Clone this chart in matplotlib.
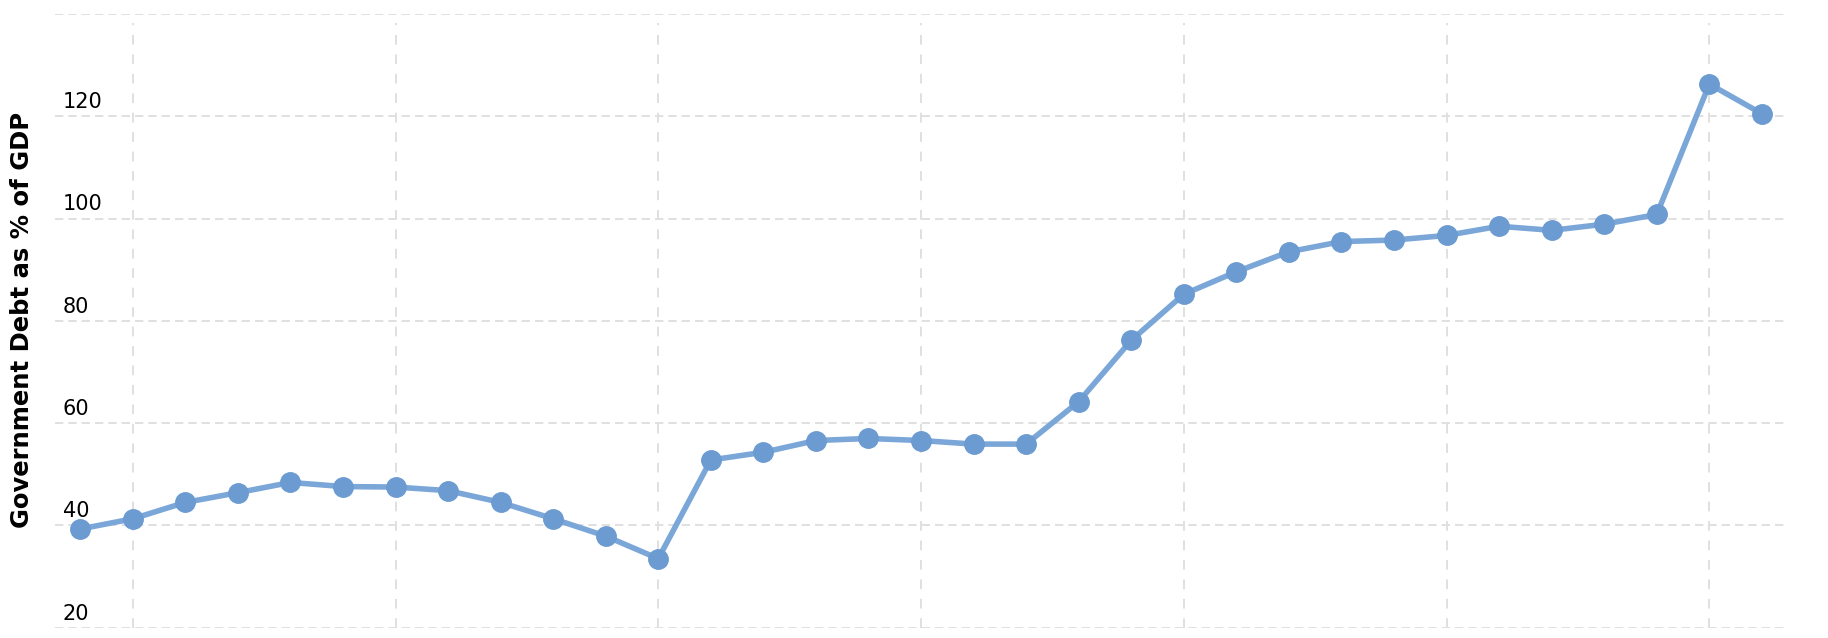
import matplotlib.pyplot as plt
import matplotlib.transforms as mtransforms

plt.rcParams['font.family'] = ['DejaVu Sans']
plt.rcParams['lines.scale_dashes'] = False

# Government debt as % of GDP, one point per year
years = list(range(1989, 2022))
debt = [39.3, 41.3, 44.5, 46.4, 48.4, 47.6, 47.5, 46.8, 44.5, 41.3,
        37.9, 33.5, 52.8, 54.3, 56.6, 57.0, 56.6, 55.9, 55.9, 64.2,
        76.2, 85.2, 89.6, 93.5, 95.5, 95.8, 96.7, 98.5, 97.7, 98.9,
        100.8, 126.3, 120.5]

y_ticks = [20, 40, 60, 80, 100, 120, 140]
y_labels = ['20', '40', '60', '80', '100', '120', '']
x_grid = [1990, 1995, 2000, 2005, 2010, 2015, 2020]

fig = plt.figure(figsize=(18.28, 6.38), dpi=100)
ax = fig.add_axes([55 / 1828, 10.3 / 638, 1730 / 1828, 613.7 / 638])

ax.plot(years, debt, color='#7aa6d8', linewidth=4.0, zorder=3)
ax.plot(years, debt, linestyle='none', marker='o', markersize=14,
        color='#6b9bd1', zorder=4)

ax.set_xlim(1988.52, 2021.44)
ax.set_ylim(20, 140)
ax.set_xticks(x_grid)
ax.set_yticks(y_ticks)
ax.set_xticklabels([])
ax.set_yticklabels([])
ax.tick_params(length=0)
for s in ax.spines.values():
    s.set_visible(False)

# dashed grid
for y in y_ticks:
    ax.axhline(y, color='#e0e0e0', linewidth=1.4, dashes=(6, 3.6), zorder=1)
for x in x_grid:
    ax.axvline(x, ymin=0, ymax=0.985, color='#e0e0e0', linewidth=1.4,
               dashes=(7, 7), zorder=1)

# y labels sit inside the plot, just above their grid line
trans = mtransforms.blended_transform_factory(ax.transAxes, ax.transData)
off = mtransforms.offset_copy(trans, fig=fig, x=0, y=3, units='points')
for y, lab in zip(y_ticks, y_labels):
    ax.text(0.0046, y, lab, transform=off, ha='left', va='bottom',
            fontsize=15, color='black', zorder=2)

fig.text(22 / 1828, (638 - 320) / 638, 'Government Debt as % of GDP',
         rotation=90, ha='center', va='center', fontsize=17.5,
         fontweight='bold', color='black')

fig.savefig('out.png', dpi=100, facecolor='white')
